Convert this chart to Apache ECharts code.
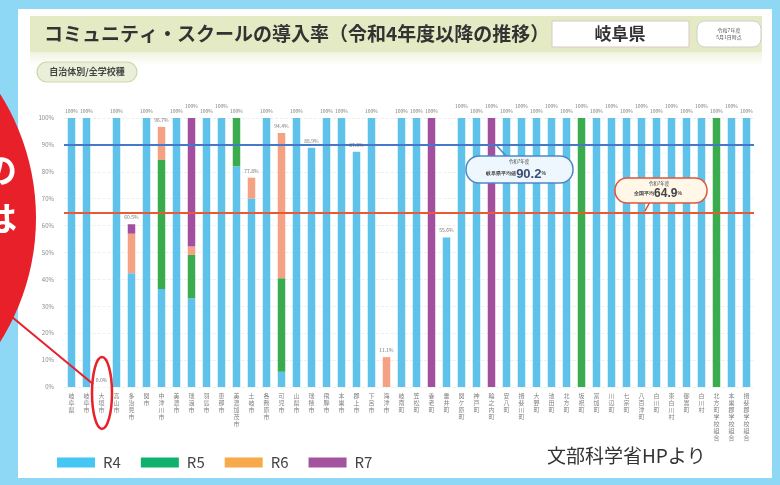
<!DOCTYPE html>
<html><head><meta charset="utf-8">
<script src="https://cdn.jsdelivr.net/npm/echarts@6/dist/echarts.min.js"></script>
<style>html,body{margin:0;padding:0;background:#fff}#c{width:780px;height:485px}</style>
</head><body><div id="c"></div>
<script>
// ---- data ----
const cities = ['岐阜県','岐阜市','大垣市','高山市','多治見市','関市','中津川市','美濃市','瑞浪市','羽島市','恵那市','美濃加茂市','土岐市','各務原市','可児市','山県市','瑞穂市','飛騨市','本巣市','郡上市','下呂市','海津市','岐南町','笠松町','養老町','垂井町','関ケ原町','神戸町','輪之内町','安八町','揖斐川町','大野町','池田町','北方町','坂祝町','富加町','川辺町','七宗町','八百津町','白川町','東白川村','御嵩町','白川村','北方町学校組合','本巣郡学校組合','揖斐郡学校組合'];
const r4 = [100,100,0,100,42.3,100,36.4,100,33.0,100,100,82.0,70.1,100,5.7,100,88.9,100,100,87.5,100,0,100,100,0,55.6,100,100,0,100,100,100,100,100,0,100,100,100,100,100,100,100,100,0,100,100];
const r5 = [0,0,0,0,0,0,48.0,0,16.1,0,0,18.0,0,0,34.7,0,0,0,0,0,0,0,0,0,0,0,0,0,0,0,0,0,0,0,100,0,0,0,0,0,0,0,0,100,0,0];
const r6 = [0,0,0,0,14.7,0,12.3,0,3.1,0,0,0,7.7,0,54.0,0,0,0,0,0,0,11.1,0,0,0,0,0,0,0,0,0,0,0,0,0,0,0,0,0,0,0,0,0,0,0,0];
const r7 = [0,0,0,0,3.5,0,0,0,47.8,0,0,0,0,0,0,0,0,0,0,0,0,0,0,0,100,0,0,0,100,0,0,0,0,0,0,0,0,0,0,0,0,0,0,0,0,0];
const seriesNames = ['R4','R5','R6','R7'];
const prefAvg = 90.2;   // 岐阜県平均
const natAvg = 64.9;    // 全国平均
const yMax = 100, yStep = 10;

const barColors = ['#5ec2ea','#3aac4e','#f4a283','#a34f9f'];
const legendColors = ['#45c6f3','#10b16c','#f8a94c','#a4549f'];
const FONT = '"Noto Sans CJK JP", "Noto Sans", sans-serif';

const totals = cities.map((_, i) => Math.round((r4[i] + r5[i] + r6[i] + r7[i]) * 10) / 10);
const raised = i => (i >= 26 && i % 2 === 0) || i === 8 || i === 10;

const chart = echarts.init(document.getElementById('c'), null, {renderer: 'canvas'});
const vals = [r4, r5, r6, r7];
const barSeries = vals.map((arr, s) => ({
  name: seriesNames[s], type: 'bar', stack: 'all', barWidth: 7.5,
  itemStyle: {color: barColors[s]}, data: arr, z: 3,
  markLine: s === 0 ? {
    silent: true, symbol: 'none', label: {show: false},
    data: [
      {yAxis: prefAvg, lineStyle: {color: '#4677c8', width: 2, type: 'solid'}},
      {yAxis: natAvg, lineStyle: {color: '#ea5a32', width: 2, type: 'solid'}}
    ]
  } : undefined
}));

const option = {
  animation: false,
  textStyle: {fontFamily: FONT},
  grid: {left: 64, right: 26, top: 118, bottom: 98, containLabel: false},
  legend: {
    left: 52, top: 450, itemWidth: 38, itemHeight: 10, itemGap: 20,
    icon: 'rect',
    textStyle: {fontSize: 15, color: '#444', padding: [0, 0, 0, 3], fontFamily: FONT},
    data: seriesNames.map((n, i) => ({name: n, itemStyle: {color: legendColors[i]}}))
  },
  xAxis: {
    type: 'category', data: cities,
    axisLine: {show: false}, axisTick: {show: false},
    axisLabel: {
      interval: 0, fontSize: 6, lineHeight: 7, color: '#808080', margin: 5,
      formatter: v => v.split('').join('\n')
    }
  },
  yAxis: {
    type: 'value', min: 0, max: yMax, interval: yStep,
    axisLine: {show: false}, axisTick: {show: false},
    axisLabel: {formatter: '{value}%', fontSize: 6, color: '#8a8a8a', margin: 10},
    splitLine: {lineStyle: {color: '#ececec', type: 'dashed', width: 0.8}}
  },
  series: barSeries.concat([{
    name: 'total', type: 'scatter', symbolSize: 1, z: 5,
    itemStyle: {color: 'transparent'},
    data: totals.map((t, i) => ({value: t, label: {offset: [0, raised(i) ? -5 : 0]}})),
    label: {
      show: true, position: 'top', distance: 4, fontSize: 5, color: '#555',
      formatter: p => (p.value === 100 ? '100%' : p.value.toFixed(1) + '%')
    }
  }]),
  graphic: [
    // frame
    {type: 'rect', z: -10, shape: {x: 0, y: 0, width: 780, height: 485}, style: {fill: '#8fd8f5'}},
    {type: 'rect', z: -9, shape: {x: 18, y: 9, width: 754, height: 469}, style: {fill: '#ffffff'}},
    // header
    {type: 'rect', z: -8, shape: {x: 30, y: 16, width: 732, height: 36}, style: {fill: '#e4eac4'}},
    {type: 'rect', z: -8, shape: {x: 30, y: 52, width: 732, height: 14},
      style: {fill: new echarts.graphic.LinearGradient(0, 0, 0, 1, [{offset: 0, color: '#f0f3e0'}, {offset: 1, color: '#ffffff'}])}},
    {type: 'text', x: 44, y: 34, style: {text: 'コミュニティ・スクールの導入率（令和4年度以降の推移）', fontSize: 19, fontWeight: 'bold', fill: '#333', fontFamily: FONT, verticalAlign: 'middle'}},
    {type: 'rect', shape: {x: 552, y: 21, width: 137, height: 26}, style: {fill: '#fff', stroke: '#d9c8c8', lineWidth: 1}},
    {type: 'text', x: 620, y: 34, style: {text: '岐阜県', fontSize: 17, fontWeight: 'bold', fill: '#333', fontFamily: FONT, align: 'center', verticalAlign: 'middle'}},
    {type: 'rect', shape: {x: 697, y: 21, width: 64, height: 26, r: 8}, style: {fill: '#fff', stroke: '#cfcfcf', lineWidth: 1}},
    {type: 'text', x: 729, y: 34, style: {text: '令和7年度\n5月1日時点', fontSize: 5, lineHeight: 7, fill: '#555', fontFamily: FONT, align: 'center', verticalAlign: 'middle'}},
    {type: 'rect', shape: {x: 37, y: 62, width: 100, height: 20, r: 10}, style: {fill: '#e9efd8', stroke: '#cbd7ab', lineWidth: 1.2}},
    {type: 'text', x: 87, y: 72, style: {text: '自治体別/全学校種', fontSize: 9, fontWeight: 'bold', fill: '#444', fontFamily: FONT, align: 'center', verticalAlign: 'middle'}},
    // callout: 岐阜県平均
    {type: 'line', z: 20, shape: {x1: 507, y1: 157, x2: 497, y2: 146}, style: {stroke: '#4f86c6', lineWidth: 1.5}},
    {type: 'rect', z: 20, shape: {x: 466, y: 156, width: 107, height: 27, r: 13}, style: {fill: '#eef7fd', stroke: '#4f86c6', lineWidth: 1.5}},
    {type: 'text', z: 21, x: 519, y: 161, style: {text: '令和7年度', fontSize: 4.5, fill: '#444', fontFamily: FONT, align: 'center', verticalAlign: 'middle'}},
    {type: 'text', z: 21, x: 516, y: 174, style: {
      text: '{s|岐阜県平均値}{b|' + prefAvg.toFixed(1) + '}{s|%}', align: 'center', verticalAlign: 'middle', fontFamily: FONT,
      rich: {s: {fontSize: 5, fill: '#444', fontWeight: 'bold'}, b: {fontSize: 13, fill: '#3d4f70', fontWeight: 'bold'}}}},
    // callout: 全国平均
    {type: 'line', z: 20, shape: {x1: 650, y1: 202, x2: 645, y2: 211}, style: {stroke: '#e2402a', lineWidth: 1.5}},
    {type: 'rect', z: 20, shape: {x: 615, y: 178, width: 92, height: 25, r: 12}, style: {fill: '#fff7e7', stroke: '#e2553a', lineWidth: 1.5}},
    {type: 'text', z: 21, x: 659, y: 183, style: {text: '令和7年度', fontSize: 4.5, fill: '#444', fontFamily: FONT, align: 'center', verticalAlign: 'middle'}},
    {type: 'text', z: 21, x: 658, y: 193.5, style: {
      text: '{s|全国平均}{b|' + natAvg.toFixed(1) + '}{s|%}', align: 'center', verticalAlign: 'middle', fontFamily: FONT,
      rich: {s: {fontSize: 5, fill: '#444', fontWeight: 'bold'}, b: {fontSize: 12, fill: '#444', fontWeight: 'bold'}}}},
    // red annotation
    {type: 'circle', z: 30, shape: {cx: -196, cy: 218, r: 232}, style: {fill: '#e8202a'}},
    {type: 'text', z: 31, x: 17, y: 170, style: {text: 'の', fontSize: 34, fontWeight: 'bold', fill: '#fff', fontFamily: FONT, align: 'right', verticalAlign: 'middle'}},
    {type: 'text', z: 31, x: 17, y: 218, style: {text: 'は', fontSize: 34, fontWeight: 'bold', fill: '#fff', fontFamily: FONT, align: 'right', verticalAlign: 'middle'}},
    {type: 'line', z: 30, shape: {x1: 12, y1: 317, x2: 93, y2: 384}, style: {stroke: '#e8202a', lineWidth: 2}},
    {type: 'ellipse', z: 30, shape: {cx: 102, cy: 393, rx: 10, ry: 36}, style: {fill: 'none', stroke: '#e8202a', lineWidth: 2.5}},
    // source
    {type: 'text', x: 547, y: 456, style: {text: '文部科学省HPより', fontSize: 19, fill: '#333', fontFamily: FONT, verticalAlign: 'middle'}}
  ]
};
chart.setOption(option);
</script>
</body></html>
